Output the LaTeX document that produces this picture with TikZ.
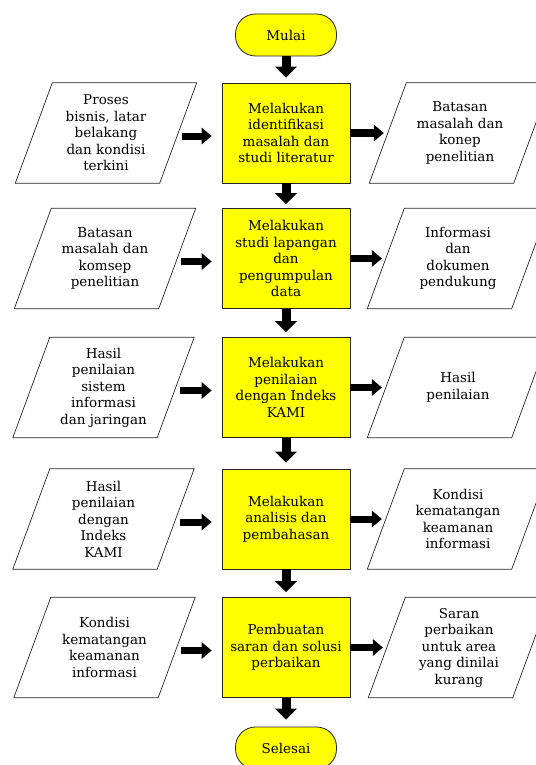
\documentclass[tikz,border=0pt]{standalone}
\usepackage{fontspec}
\setmainfont{DejaVu Serif}
\usetikzlibrary{arrows.meta}
\definecolor{boxyellow}{HTML}{FFFF00}
\definecolor{linegray}{HTML}{262626}
\begin{document}
\begin{tikzpicture}[x=1pt,y=-1pt,
  font=\fontsize{13.5}{16.5}\selectfont,
  procbox/.style={draw=linegray, line width=0.8pt, fill=boxyellow, minimum width=128pt, minimum height=100pt, align=center, inner sep=0pt},
  termbox/.style={draw=linegray, line width=0.8pt, fill=boxyellow, rounded corners=20pt, minimum width=101pt, minimum height=42pt, inner sep=0pt},
  iobox/.style={minimum width=144pt, minimum height=100pt, inner sep=0pt, align=center,
    append after command={\pgfextra{\draw[linegray, line width=0.7pt]
      ([xshift=18.5pt]\tikzlastnode.north west) -- ([xshift=18.5pt]\tikzlastnode.north east) --
      ([xshift=-18.5pt]\tikzlastnode.south east) -- ([xshift=-18.5pt]\tikzlastnode.south west) -- cycle;}}},
  varrow/.style={line width=9pt, -{Triangle[width=22pt,length=11pt,line width=0pt]}, shorten >=5pt},
  harrow/.style={line width=7pt, -{Triangle[width=17pt,length=10pt,line width=0pt]}},
  larrow/.style={harrow, shorten <=4pt, shorten >=10pt},
  rarrow/.style={harrow, shorten >=4pt}
]
\useasboundingbox (0,0) rectangle (535,765);

% terminals
\node[termbox] (start) at (286,35) {Mulai};
\node[termbox] (stop) at (286,748) {Selesai};

% process boxes
\node[procbox] (b1) at (286,133) {Melakukan\\identifikasi\\masalah dan\\studi literatur};
\node[procbox] (b2) at (286,258.5) {Melakukan\\studi lapangan\\dan\\pengumpulan\\data};
\node[procbox] (b3) at (286,387.5) {Melakukan\\penilaian\\dengan Indeks\\KAMI};
\node[procbox] (b4) at (286,519) {Melakukan\\analisis dan\\pembahasan};
\node[procbox] (b5) at (286,647.5) {Pembuatan\\saran dan solusi\\perbaikan};

% inputs
\node[iobox] (l1) at (106,133) {Proses\\bisnis, latar\\belakang\\dan kondisi\\terkini};
\node[iobox] (l2) at (105,258.5) {Batasan\\masalah dan\\komsep\\penelitian};
\node[iobox] (l3) at (103.5,387.5) {Hasil\\penilaian\\sistem\\informasi\\dan jaringan};
\node[iobox] (l4) at (103.5,519) {Hasil\\penilaian\\dengan\\Indeks\\KAMI};
\node[iobox] (l5) at (104.5,647.5) {Kondisi\\kematangan\\keamanan\\informasi};

% outputs
\node[iobox] (r1) at (460,133) {Batasan\\masalah dan\\konep\\penelitian};
\node[iobox] (r2) at (458,258.5) {Informasi\\dan\\dokumen\\pendukung};
\node[iobox] (r3) at (458,387.5) {Hasil\\penilaian};
\node[iobox] (r4) at (458,519) {Kondisi\\kematangan\\keamanan\\informasi};
\node[iobox] (r5) at (459,647.5) {Saran\\perbaikan\\untuk area\\yang dinilai\\kurang};

% vertical flow
\draw[varrow] (start.south) -- (b1.north);
\draw[varrow, shorten >=4pt] (b1.south) -- (b2.north);
\draw[varrow] (b2.south) -- (b3.north);
\draw[varrow, shorten >=6pt] (b3.south) -- (b4.north);
\draw[varrow] (b4.south) -- (b5.north);
\draw[varrow, shorten >=7pt] (b5.south) -- (stop.north);

% inputs to processes, processes to outputs
\foreach \i in {1,...,5}{
  \draw[larrow] ([yshift=-3pt]l\i.east) -- ([yshift=-3pt]b\i.west);
  \draw[rarrow] (b\i.east) -- (r\i.west);
}
\end{tikzpicture}
\end{document}
